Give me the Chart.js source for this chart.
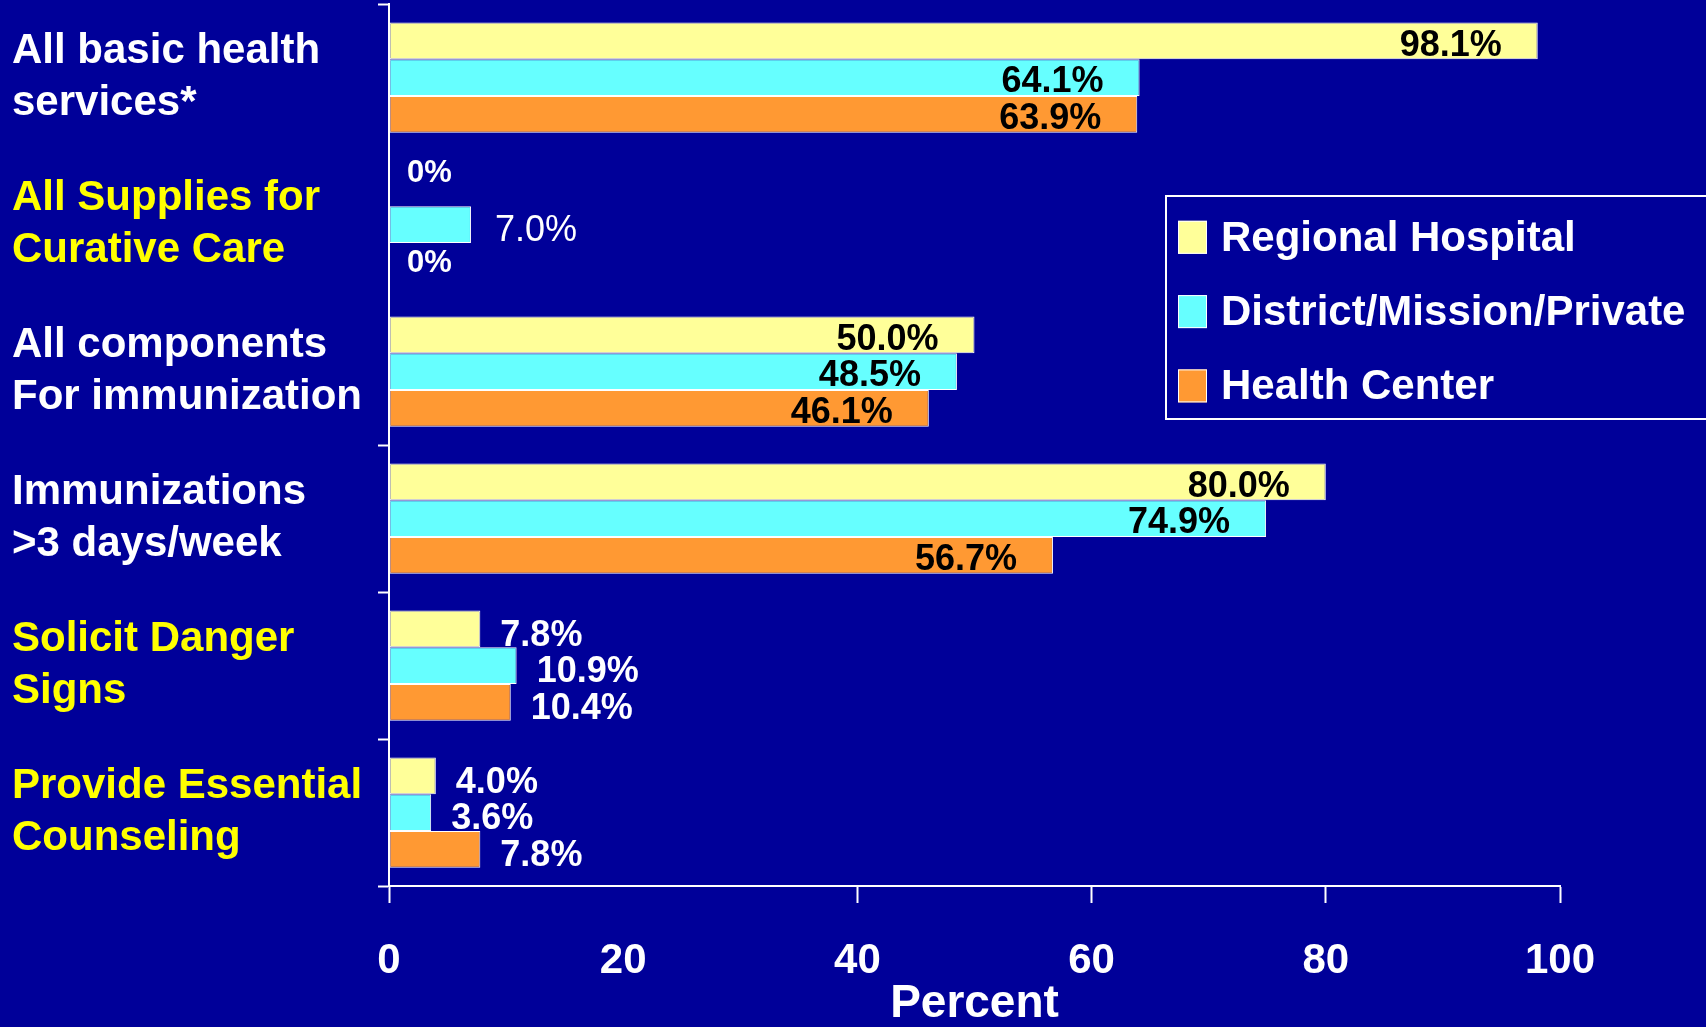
<!DOCTYPE html>
<html><head><meta charset="utf-8">
<script src="https://cdn.jsdelivr.net/npm/chart.js@4"></script>
<style>html,body{margin:0;padding:0;background:#000099;}canvas{display:block;}</style>
</head><body>
<canvas id="c" width="1706" height="1027"></canvas>
<script>
const categories = [
  ["All basic health", "services*"],
  ["All Supplies for", "Curative Care"],
  ["All components", "For immunization"],
  ["Immunizations", ">3 days/week"],
  ["Solicit Danger", "Signs"],
  ["Provide Essential", "Counseling"]
];
const seriesNames = ["Regional Hospital", "District/Mission/Private", "Health Center"];
const regionalHospital = [98.1, 0, 50.0, 80.0, 7.8, 4.0];
const districtMissionPrivate = [64.1, 7.0, 48.5, 74.9, 10.9, 3.6];
const healthCenter = [63.9, 0, 46.1, 56.7, 10.4, 7.8];
const xTicks = [0, 20, 40, 60, 80, 100];

const seriesValues = [regionalHospital, districtMissionPrivate, healthCenter];
const seriesColors = ['#FFFF99', '#66FFFF', '#FF9933'];
const categoryColors = ['#FFFFFF', '#FFFF00', '#FFFFFF', '#FFFFFF', '#FFFF00', '#FFFF00'];
const FONT = "'Liberation Sans', Arial, sans-serif";

const labelPlugin = {
  id: 'valueLabels',
  afterDatasetsDraw(chart) {
    const ctx = chart.ctx;
    const area = chart.chartArea;
    chart.data.datasets.forEach((ds, di) => {
      const meta = chart.getDatasetMeta(di);
      meta.data.forEach((bar, i) => {
        const v = ds.data[i];
        ctx.save();
        ctx.textBaseline = 'middle';
        if (v === 0) {
          ctx.font = `bold 31px ${FONT}`;
          ctx.fillStyle = '#FFFFFF';
          ctx.textAlign = 'left';
          ctx.fillText('0%', area.left + 18, bar.y + (di === 0 ? -14 : 2));
        } else if (v >= 40) {
          ctx.font = `bold 36px ${FONT}`;
          ctx.fillStyle = '#000000';
          ctx.textAlign = 'right';
          ctx.fillText(v.toFixed(1) + '%', bar.x - 36, bar.y + 5);
        } else {
          ctx.font = `${i === 1 ? 'normal' : 'bold'} 36px ${FONT}`;
          ctx.fillStyle = '#FFFFFF';
          ctx.textAlign = 'left';
          ctx.fillText(v.toFixed(1) + '%', bar.x + (i === 1 ? 24 : 20), bar.y + 7);
        }
        ctx.restore();
      });
    });
  }
};

const legendPlugin = {
  id: 'boxLegend',
  afterDraw(chart) {
    const ctx = chart.ctx;
    const lx = 1166, ly = 196, lh = 223;
    ctx.save();
    ctx.fillStyle = '#000099';
    ctx.fillRect(lx, ly, chart.width - lx + 10, lh);
    ctx.strokeStyle = '#FFFFFF';
    ctx.lineWidth = 2;
    ctx.strokeRect(lx, ly, chart.width - lx + 10, lh);
    chart.data.datasets.forEach((ds, k) => {
      const cy = 237.3 + k * 74.3;
      ctx.fillStyle = ds.backgroundColor;
      ctx.fillRect(1178, cy - 16.5, 29, 33);
      ctx.strokeStyle = '#FFFFFF';
      ctx.lineWidth = 1;
      ctx.strokeRect(1178.5, cy - 16, 28, 32);
      ctx.fillStyle = '#FFFFFF';
      ctx.font = `bold 42px ${FONT}`;
      ctx.textAlign = 'left';
      ctx.textBaseline = 'alphabetic';
      ctx.fillText(ds.label, 1221, cy + 13.5);
    });
    ctx.restore();
  }
};

new Chart(document.getElementById('c'), {
  type: 'bar',
  data: {
    labels: categories,
    datasets: seriesNames.map((name, k) => ({
      label: name,
      data: seriesValues[k],
      backgroundColor: seriesColors[k],
      borderColor: '#FFFFFF',
      borderWidth: 1,
      borderSkipped: false,
      categoryPercentage: 0.75,
      barPercentage: 1
    }))
  },
  options: {
    indexAxis: 'y',
    responsive: false,
    animation: false,
    layout: { padding: { left: 12, top: 4, right: 146, bottom: 0 } },
    plugins: { legend: { display: false }, tooltip: { enabled: false } },
    scales: {
      x: {
        min: 0, max: 100,
        afterBuildTicks(s) { s.ticks = xTicks.map(v => ({ value: v })); },
        ticks: { color: '#FFFFFF', font: { family: FONT, weight: 'bold', size: 42 }, padding: 33 },
        grid: {
          drawOnChartArea: false, tickLength: 17, tickWidth: 2,
          tickColor: c => c.index === 1 ? 'rgba(0,0,0,0)' : '#FFFFFF'
        },
        border: { color: '#FFFFFF', width: 2 },
        title: { display: true, text: 'Percent', color: '#FFFFFF', font: { family: FONT, weight: 'bold', size: 46, lineHeight: 1.0 }, padding: 0 },
        afterFit(s) { s.height = 141; }
      },
      y: {
        ticks: {
          color: c => categoryColors[c.index],
          font: { family: FONT, weight: 'bold', size: 42, lineHeight: 1.25 },
          crossAlign: 'far'
        },
        grid: {
          drawOnChartArea: false, tickLength: 11, tickWidth: 2,
          tickColor: c => (c.index === 1 || c.index === 2) ? 'rgba(0,0,0,0)' : '#FFFFFF'
        },
        border: { color: '#FFFFFF', width: 2 },
        afterFit(s) { s.width = 377; s.paddingTop = 0; s.paddingBottom = 0; }
      }
    }
  },
  plugins: [labelPlugin, legendPlugin]
});
</script>
</body></html>
